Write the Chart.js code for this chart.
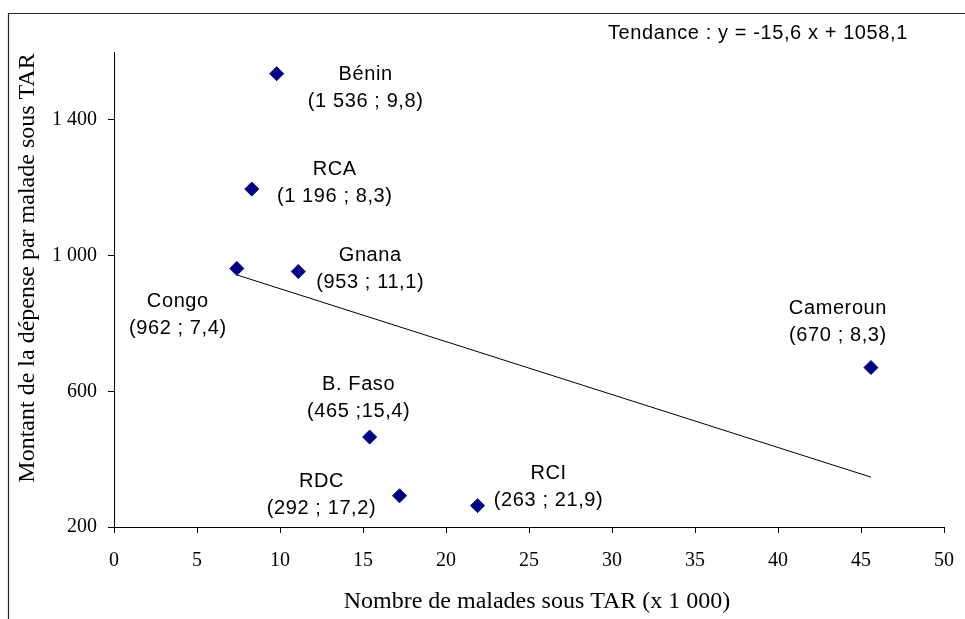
<!DOCTYPE html>
<html lang="fr">
<head>
<meta charset="UTF-8" />
<title>Dépense par malade sous TAR</title>
<script src="https://cdn.jsdelivr.net/npm/chart.js"></script>
<style>
    html, body { margin: 0; padding: 0; background: #fff; }
    #wrap { width: 965px; height: 619px; }
</style>
</head>
<body>
<div id="wrap"><canvas id="scatterChart" width="965" height="619"></canvas></div>

<script>
    // data
    const countries = ['Bénin', 'RCA', 'Congo', 'Gnana', 'Cameroun', 'B. Faso', 'RDC', 'RCI'];
    const patients = [9.8, 8.3, 7.4, 11.1, 45.6, 15.4, 17.2, 21.9];      // x 1 000
    const spending = [1536, 1196, 962, 953, 670, 465, 292, 263];
    const pointTexts = ['(1 536 ; 9,8)', '(1 196 ; 8,3)', '(962 ; 7,4)', '(953 ; 11,1)',
        '(670 ; 8,3)', '(465 ;15,4)', '(292 ; 17,2)', '(263 ; 21,9)'];
    const trendX = [7.4, 45.6];
    const trendY = [943, 347];
    const yTicks = [200, 600, 1000, 1400];
    const yTickLabels = ['200', '600', '1 000', '1 400'];
    const trendText = 'Tendance : y = -15,6 x + 1058,1';
    const xTitle = 'Nombre de malades sous TAR (x 1 000)';
    const yTitle = 'Montant de la dépense par malade sous TAR';

    // where each label sits relative to its point (px, centre of first line)
    const labelOffsets = [[89, 1], [83, -20], [-59, 33], [72, -16], [-33, -59], [-11, -53], [-78, -14], [71, -32]];

    const serif = "'Liberation Serif', 'Times New Roman', serif";
    const sans = "'Liberation Sans', Arial, sans-serif";

    const decorations = {
        id: 'decorations',
        beforeDraw(chart) {
            const c = chart.ctx;
            c.save();
            c.fillStyle = '#fff';
            c.fillRect(0, 0, chart.width, chart.height);
            // outer frame (only left and top edges show)
            c.strokeStyle = '#222';
            c.lineWidth = 1.2;
            c.beginPath();
            c.moveTo(8.5, chart.height + 5);
            c.lineTo(8.5, 13.5);
            c.lineTo(chart.width + 5, 13.5);
            c.stroke();
            c.restore();
        },
        afterDraw(chart) {
            const c = chart.ctx;
            const xs = chart.scales.x, ys = chart.scales.y;
            c.save();
            c.fillStyle = '#000';
            c.textAlign = 'center';
            c.textBaseline = 'middle';
            c.font = '20px ' + sans;
            c.letterSpacing = '0.6px';
            countries.forEach((name, i) => {
                const px = xs.getPixelForValue(patients[i]) + labelOffsets[i][0];
                const py = ys.getPixelForValue(spending[i]) + labelOffsets[i][1];
                c.fillText(name, px, py);
                c.fillText(pointTexts[i], px, py + 27);
            });
            c.textAlign = 'left';
            c.fillText(trendText, 608, 33);

            c.letterSpacing = '0px';
            c.font = '24px ' + serif;
            c.textAlign = 'center';
            c.fillText(xTitle, 537, 602);
            c.translate(28, 268);
            c.rotate(-Math.PI / 2);
            c.fillText(yTitle, 0, 0);
            c.restore();
        }
    };

    new Chart(document.getElementById('scatterChart'), {
        type: 'scatter',
        data: {
            datasets: [
                {
                    label: 'Pays',
                    data: patients.map((x, i) => ({ x: x, y: spending[i] })),
                    pointStyle: 'rectRot',
                    pointRadius: 7,
                    pointHoverRadius: 7,
                    backgroundColor: '#000080',
                    borderColor: '#000080',
                    borderWidth: 1
                },
                {
                    label: 'Tendance',
                    type: 'line',
                    data: trendX.map((x, i) => ({ x: x, y: trendY[i] })),
                    borderColor: '#000',
                    borderWidth: 1,
                    pointRadius: 0,
                    fill: false,
                    tension: 0
                }
            ]
        },
        options: {
            responsive: false,
            animation: false,
            devicePixelRatio: 1,
            layout: {
                padding: { top: 52, right: 21, left: 0, bottom: 0 }
            },
            plugins: {
                legend: { display: false },
                tooltip: { enabled: false }
            },
            scales: {
                x: {
                    type: 'linear',
                    min: 0,
                    max: 50,
                    ticks: {
                        stepSize: 5,
                        color: '#000',
                        padding: 16,
                        maxRotation: 0,
                        font: { family: serif, size: 20 }
                    },
                    grid: { drawOnChartArea: false, tickLength: 6, color: '#000' },
                    border: { color: '#000', width: 1 },
                    afterFit: (axis) => {
                        axis.height = 92;
                        axis.paddingLeft = 0;
                        axis.paddingRight = 0;
                    }
                },
                y: {
                    min: 200,
                    max: 1600,
                    afterBuildTicks: (axis) => { axis.ticks = yTicks.map(v => ({ value: v })); },
                    ticks: {
                        color: '#000',
                        padding: 11,
                        font: { family: serif, size: 20 },
                        callback: (v) => yTickLabels[yTicks.indexOf(v)]
                    },
                    grid: { drawOnChartArea: false, tickLength: 6, color: '#000' },
                    border: { color: '#000', width: 1 },
                    afterFit: (axis) => {
                        axis.width = 114;
                        axis.paddingTop = 0;
                        axis.paddingBottom = 0;
                    }
                }
            }
        },
        plugins: [decorations]
    });
</script>
</body>
</html>
